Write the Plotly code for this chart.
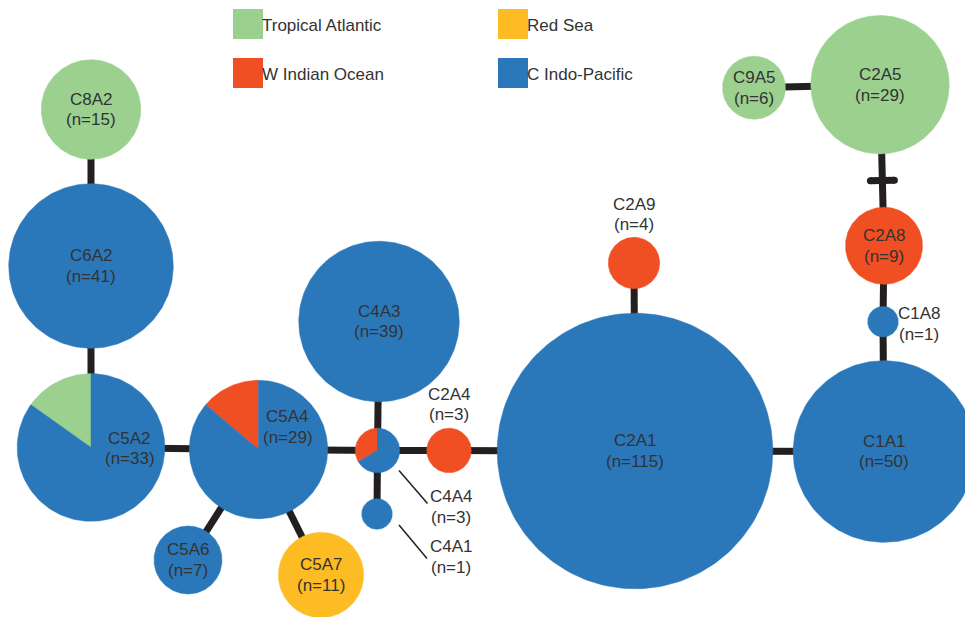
import math
import plotly.graph_objects as go

# ---------------- data ----------------
regions = ["Tropical Atlantic", "W Indian Ocean", "Red Sea", "C Indo-Pacific"]
region_colors = ["#9bd08f", "#f04e23", "#fdbc23", "#2a78ba"]

names = ["C8A2", "C6A2", "C5A2", "C5A4", "C5A6", "C5A7", "C4A3", "C4A4", "C4A1",
         "C2A4", "C2A1", "C2A9", "C1A1", "C1A8", "C2A8", "C2A5", "C9A5"]
trop_atlantic = [15, 0, 5, 0, 0, 0, 0, 0, 0, 0, 0, 0, 0, 0, 0, 29, 6]
w_indian      = [0, 0, 0, 4, 0, 0, 0, 1, 0, 3, 0, 4, 0, 0, 9, 0, 0]
red_sea       = [0, 0, 0, 0, 0, 11, 0, 0, 0, 0, 0, 0, 0, 0, 0, 0, 0]
c_indo        = [0, 41, 28, 25, 7, 0, 39, 2, 1, 0, 115, 0, 50, 1, 0, 0, 0]

# network layout (node centres)
node_x = [91, 91, 91, 258.5, 188, 321, 379, 377.5, 377, 449, 635, 634, 884, 883, 884, 880, 754]
node_y = [109.5, 266, 447.5, 449.5, 560, 575, 321.5, 450.5, 514, 450.5, 451, 263, 451.5, 321.7, 245.8, 84.7, 87.7]

edges = [("C8A2", "C6A2"), ("C6A2", "C5A2"), ("C5A2", "C5A4"), ("C5A4", "C5A6"),
         ("C5A4", "C5A7"), ("C5A4", "C4A4"), ("C4A3", "C4A4"), ("C4A4", "C4A1"),
         ("C4A4", "C2A4"), ("C2A4", "C2A1"), ("C2A1", "C2A9"), ("C2A1", "C1A1"),
         ("C1A1", "C1A8"), ("C1A8", "C2A8"), ("C2A8", "C2A5"), ("C2A5", "C9A5")]
mutation_ticks = [("C2A8", "C2A5")]

# ---------------- style / layout ----------------
W, H = 965, 617
FONT = "Liberation Sans, Arial, Helvetica, sans-serif"
TEXT_COLOR = "#333333"
EDGE_COLOR = "#231f20"
R_SCALE, R_MIN = 12.85, 15.3
LINE_GAP = 10.3
FS = 17

label_offset = {"C5A2": (38.5, 1), "C5A4": (29, -22.5), "C2A4": (0, -46),
                "C2A9": (0, -48.5), "C1A8": (36, 2), "C4A4": (73.5, 56.5),
                "C4A1": (74, 43)}
leaders = {"C4A4": ((21.5, 20), (50, 53)), "C4A1": ((22, 11), (50, 44.5))}

idx = {n: i for i, n in enumerate(names)}
counts = [trop_atlantic[i] + w_indian[i] + red_sea[i] + c_indo[i] for i in range(len(names))]
radius = [max(R_SCALE * math.sqrt(c), R_MIN) for c in counts]

fig = go.Figure()

# edges
for a, b in edges:
    i, j = idx[a], idx[b]
    fig.add_trace(go.Scatter(x=[node_x[i], node_x[j]], y=[node_y[i], node_y[j]],
                             mode="lines", line=dict(color=EDGE_COLOR, width=7),
                             hoverinfo="skip"))

# mutation ticks (perpendicular bar at the midpoint of the gap between circles)
for a, b in mutation_ticks:
    i, j = idx[a], idx[b]
    dx, dy = node_x[j] - node_x[i], node_y[j] - node_y[i]
    L = math.hypot(dx, dy)
    ux, uy = dx / L, dy / L
    t = (radius[i] + (L - radius[j])) / 2
    mx, my = node_x[i] + ux * t, node_y[i] + uy * t
    px, py = -uy, ux
    hl = 12
    fig.add_trace(go.Scatter(x=[mx - px * hl, mx + px * hl], y=[my - py * hl, my + py * hl],
                             mode="lines+markers", line=dict(color=EDGE_COLOR, width=7),
                             marker=dict(color=EDGE_COLOR, size=7), hoverinfo="skip"))

# leader lines
for n, (s, e) in leaders.items():
    i = idx[n]
    fig.add_trace(go.Scatter(x=[node_x[i] + s[0], node_x[i] + e[0]],
                             y=[node_y[i] + s[1], node_y[i] + e[1]],
                             mode="lines", line=dict(color=EDGE_COLOR, width=1.5),
                             hoverinfo="skip"))

# nodes (pie slices)
comp = [trop_atlantic, w_indian, red_sea, c_indo]
for i, n in enumerate(names):
    cx, cy, r, tot = node_x[i], node_y[i], radius[i], counts[i]
    parts = [(k, comp[k][i]) for k in range(4) if comp[k][i] > 0]
    start = 90.0
    for k, c in parts:
        sweep = 360.0 * c / tot
        steps = max(int(sweep / 2), 4)
        angs = [math.radians(start + sweep * s / steps) for s in range(steps + 1)]
        xs = [cx + r * math.cos(a) for a in angs]
        ys = [cy - r * math.sin(a) for a in angs]
        if len(parts) > 1:
            xs = [cx] + xs + [cx]
            ys = [cy] + ys + [cy]
        fig.add_trace(go.Scatter(x=xs, y=ys, mode="lines", fill="toself",
                                 fillcolor=region_colors[k],
                                 line=dict(color=region_colors[k], width=0.5),
                                 hoverinfo="skip"))
        start += sweep

# node labels
annotations = []
for i, n in enumerate(names):
    ox, oy = label_offset.get(n, (0, 0))
    lx, ly = node_x[i] + ox, node_y[i] + oy
    for txt, yy in ((n, ly - LINE_GAP), (f"(n={counts[i]})", ly + LINE_GAP)):
        annotations.append(dict(x=lx, y=yy, xref="x", yref="y", text=txt,
                                showarrow=False, xanchor="center", yanchor="middle",
                                font=dict(family=FONT, size=FS, color=TEXT_COLOR)))

# legend (manual)
legend_x = [248, 513, 248, 513]
legend_y = [24, 24, 73, 73]
legend_order = [0, 2, 1, 3]
for pos, k in enumerate(legend_order):
    fig.add_trace(go.Scatter(x=[legend_x[pos]], y=[legend_y[pos]], mode="markers",
                             marker=dict(symbol="square", size=30, color=region_colors[k],
                                         line=dict(width=0)),
                             hoverinfo="skip"))
    annotations.append(dict(x=legend_x[pos] + 15, y=legend_y[pos] + 1, xref="x", yref="y",
                            text=regions[k], showarrow=False, xanchor="left",
                            yanchor="middle", xshift=-3,
                            font=dict(family=FONT, size=FS, color=TEXT_COLOR)))

fig.update_layout(
    width=W, height=H, margin=dict(l=0, r=0, t=0, b=0),
    paper_bgcolor="white", plot_bgcolor="white", showlegend=False,
    annotations=annotations,
    xaxis=dict(range=[0, W], visible=False, fixedrange=True),
    yaxis=dict(range=[H, 0], visible=False, fixedrange=True),
)

fig.write_html("out.html",
               config={"displayModeBar": False, "staticPlot": True},
               post_script="document.body.style.margin='0';document.body.style.overflow='hidden';")
